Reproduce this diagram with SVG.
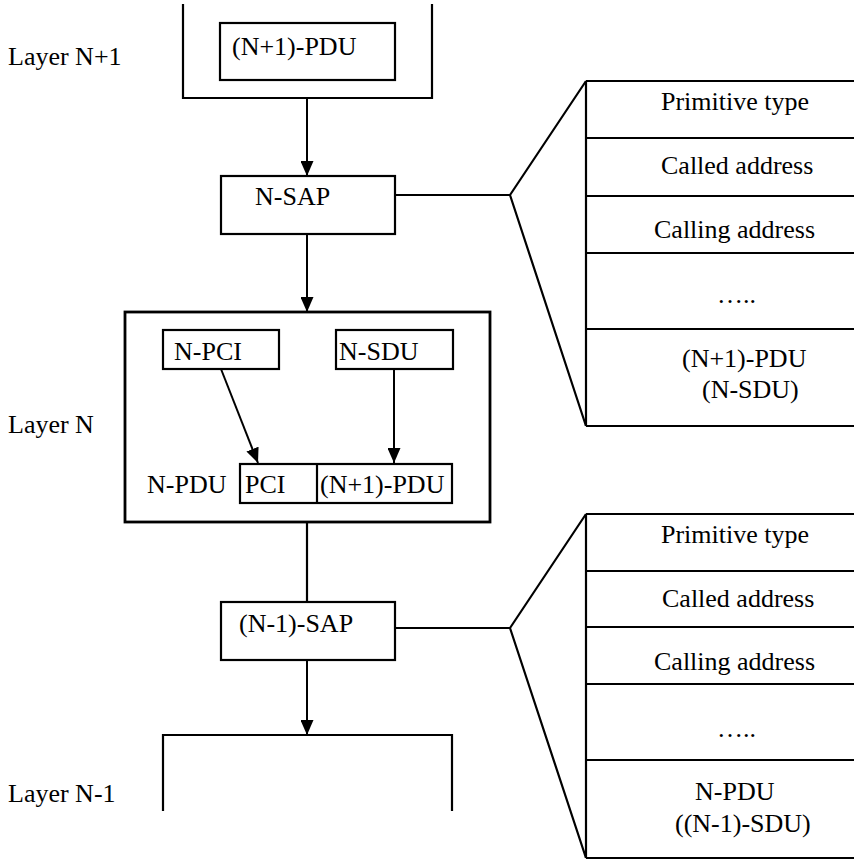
<svg xmlns="http://www.w3.org/2000/svg" width="854" height="860" viewBox="0 0 854 860">
  <style>
    text { font-family: 'Liberation Serif', serif; font-size: 26px; fill: #000; }
    .ln { fill: none; stroke: #000; stroke-width: 2.2; }
    .box { fill: #fff; stroke: #000; stroke-width: 2.2; }
    .thick { fill: #fff; stroke: #000; stroke-width: 2.8; }
    .arr { fill: none; stroke: #000; stroke-width: 2; marker-end: url(#head); }
  </style>
  <defs>
    <marker id="head" markerUnits="userSpaceOnUse" markerWidth="15" markerHeight="13" refX="15" refY="6.5" orient="auto">
      <path d="M0,0 L15,6.5 L0,13 z" fill="#000"/>
    </marker>
  </defs>
  <rect width="854" height="860" fill="#fff"/>

  <!-- layer labels -->
  <g id="labels">
    <text x="8" y="65">Layer N+1</text>
    <text x="8" y="433">Layer N</text>
    <text x="8" y="802">Layer N-1</text>
  </g>

  <!-- layer N+1 -->
  <g id="layer-n-plus-1">
    <path class="ln" d="M183,4 V98 H432 V4"/>
    <rect class="box" x="220" y="23" width="175" height="57"/>
    <text x="232" y="55">(N+1)-PDU</text>
  </g>

  <!-- N-SAP -->
  <g id="n-sap">
    <rect class="box" x="221" y="176" width="174" height="58"/>
    <text x="255" y="205">N-SAP</text>
  </g>

  <!-- layer N -->
  <g id="layer-n">
    <rect class="thick" x="125" y="312" width="365" height="210"/>
  </g>
  <g id="n-pci">
    <rect class="box" x="163" y="330" width="116" height="39"/>
    <text x="174" y="360">N-PCI</text>
  </g>
  <g id="n-sdu">
    <rect class="box" x="336" y="330" width="117" height="39"/>
    <text x="339" y="360">N-SDU</text>
  </g>
  <g id="n-pdu">
    <text x="147" y="493">N-PDU</text>
    <rect class="box" x="240" y="464" width="212" height="39"/>
    <line class="ln" x1="317" y1="464" x2="317" y2="503"/>
    <text x="245" y="493">PCI</text>
    <text x="320" y="493">(N+1)-PDU</text>
  </g>

  <!-- (N-1)-SAP -->
  <g id="n-minus-1-sap">
    <rect class="box" x="221" y="602" width="174" height="58"/>
    <text x="239" y="632">(N-1)-SAP</text>
  </g>

  <!-- layer N-1 -->
  <g id="layer-n-minus-1">
    <path class="ln" d="M163,811 V735 H452 V811"/>
  </g>

  <!-- primitive fields at N-SAP -->
  <g id="n-sap-fields">
    <path class="ln" d="M586,81 V426 M586,81 H854 M586,138 H854 M586,196 H854 M586,253 H854 M586,329 H854 M586,426 H854"/>
    <text x="661" y="110">Primitive type</text>
    <text x="661" y="174">Called address</text>
    <text x="654" y="238">Calling address</text>
    <text x="717" y="303">…..</text>
    <text x="682" y="367">(N+1)-PDU</text>
    <text x="702" y="398">(N-SDU)</text>
  </g>

  <!-- primitive fields at (N-1)-SAP -->
  <g id="n-minus-1-sap-fields">
    <path class="ln" d="M586,514 V858 M586,514 H854 M586,571 H854 M586,627 H854 M586,684 H854 M586,760 H854 M586,858 H854"/>
    <text x="661" y="543">Primitive type</text>
    <text x="662" y="607">Called address</text>
    <text x="654" y="670">Calling address</text>
    <text x="717" y="737">…..</text>
    <text x="695" y="800">N-PDU</text>
    <text x="675" y="832">((N-1)-SDU)</text>
  </g>

  <!-- connectors -->
  <g id="connectors">
    <line class="arr" x1="307" y1="98" x2="307" y2="176"/>
    <line class="arr" x1="307" y1="234" x2="307" y2="312"/>
    <line class="arr" x1="221" y1="369" x2="258" y2="463"/>
    <line class="arr" x1="394" y1="369" x2="394" y2="463"/>
    <line class="ln" x1="307" y1="522" x2="307" y2="602"/>
    <line class="arr" x1="307" y1="660" x2="307" y2="735"/>
    <path class="ln" d="M395,195 H510 L586,81 M510,195 L586,426"/>
    <path class="ln" d="M395,628 H510 L586,514 M510,628 L586,858"/>
  </g>
</svg>
